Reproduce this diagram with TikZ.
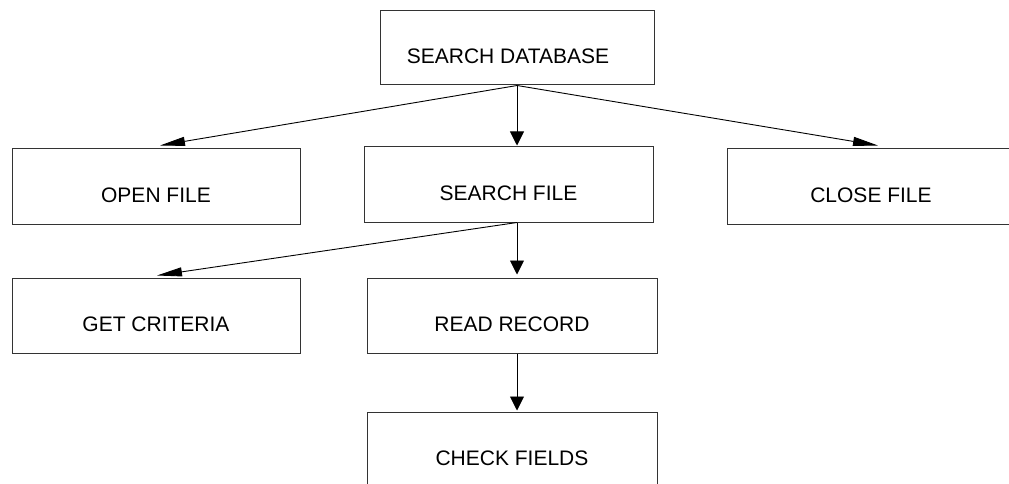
\documentclass[tikz,border=0pt]{standalone}
\usepackage{fontspec}
\setmainfont{Liberation Sans}
\usetikzlibrary{arrows.meta,calc}
\begin{document}
\begin{tikzpicture}[x=1pt,y=-1pt,
  box/.style={draw=black!80,line width=1pt,rectangle,minimum height=75pt,inner sep=0pt,
    text height=31pt,text depth=0pt,font=\fontsize{21}{25}\selectfont},
  vline/.style={draw=black,line width=0.9pt,-{Triangle[length=14pt,width=14pt]}},
  sline/.style={draw=black,line width=0.9pt,-{Triangle[length=25pt,width=9pt]}}]
\useasboundingbox (0,0) rectangle (1009,484);
\node[box,minimum width=274pt,minimum height=74pt] (db) at (517,48) {SEARCH DATABASE\kern18pt};
\node[box,minimum width=288pt] (openf) at (156,186.5) {OPEN FILE};
\node[box,minimum width=289pt] (searchf) at (508.5,184.5) {SEARCH FILE};
\node[box,minimum width=288pt] (closef) at (871,186.5) {CLOSE FILE};
\node[box,minimum width=288pt] (getc) at (156,315.5) {GET CRITERIA};
\node[box,minimum width=290pt] (readr) at (512,315.5) {READ RECORD};
\node[box,minimum width=290pt] (checkf) at (512,449.5) {CHECK FIELDS};
\coordinate (sfout) at ($(searchf.south)+(8.5,0)$);
\coordinate (rrout) at ($(readr.south)+(5,0)$);
\draw[sline] (db.south) -- ($(openf.north)+(4,-3)$);
\draw[vline,shorten >=1pt] (db.south) -- (db.south |- searchf.north);
\draw[sline] (db.south) -- ($(closef.north)+(7,-3)$);
\draw[sline] (sfout) -- ($(getc.north)+(1,-2)$);
\draw[vline,shorten >=3pt] (sfout) -- (sfout |- readr.north);
\draw[vline,shorten >=1pt] (rrout) -- (rrout |- checkf.north);
\end{tikzpicture}
\end{document}
